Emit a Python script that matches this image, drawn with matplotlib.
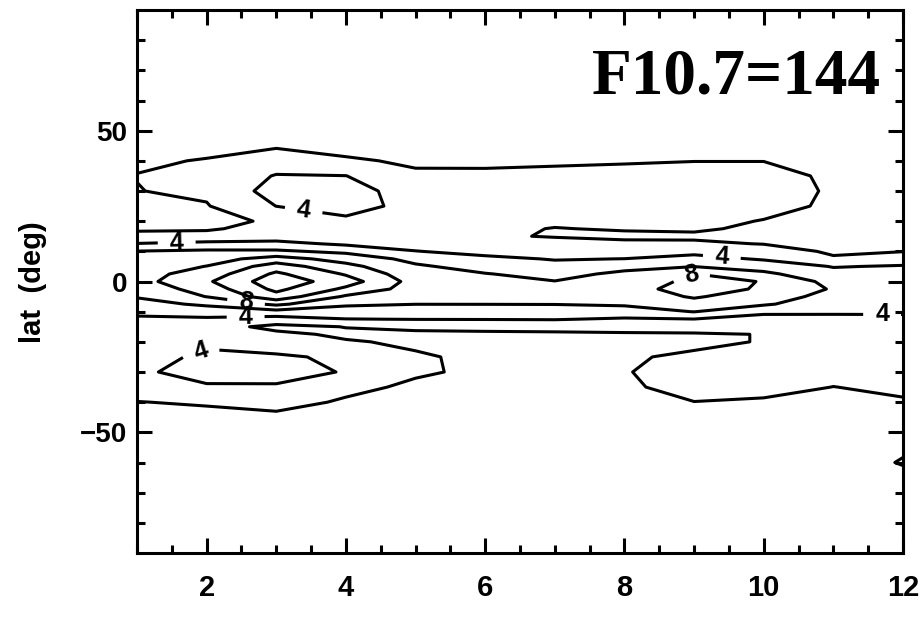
import matplotlib
matplotlib.use("Agg")
import matplotlib.pyplot as plt
import numpy as np

# latitude nodes (deg), north to south
lat = [90, 80, 70, 60, 50, 45, 40, 35, 30, 25, 20,
       17.5, 15, 12.5, 10, 7.5, 5, 2.5, 0, -2.5, -5, -7.5, -10, -12.5, -15, -17.5, -20,
       -25, -30, -35, -40, -45, -50, -60, -70, -80, -90]

months = [1, 2, 3, 4, 5, 6, 7, 8, 9, 10, 11, 12]

# monthly latitude profiles, same order as lat
jan = [0.4, 0.6, 0.8, 1.0, 1.47, 1.7, 1.85, 2.03, 1.96, 1.85, 1.75,
       1.85, 2.3, 4.09, 6.06, 6.46, 6.86, 7.26, 7.27, 6.70, 6.14, 5.31, 4.40, 3.71, 3.20, 3.10, 3.00,
       3.30, 3.60, 3.00, 1.95, 1.40, 1.20, 0.80, 0.60, 0.50, 0.40]
feb = [0.4, 0.6, 0.8, 1.0, 1.47, 1.7, 2.06, 2.5, 2.3, 1.89, 1.6,
       1.8, 2.6, 4.5, 6.33, 7.17, 8.05, 8.85, 9.7, 8.85, 8.05, 6.33, 4.92, 3.71, 2.8, 3.23, 3.67,
       4.34, 4.9, 3.73, 2.21, 1.4, 1.2, 0.8, 0.6, 0.5, 0.4]
mar = [0.4, 0.6, 0.8, 1.0, 1.53, 1.8, 2.95, 4.12, 4.8, 4.02, 2.2,
       2.6, 3.0, 4.58, 6.3, 8.84, 11.0, 12.37, 13.2, 12.49, 11.24, 8.4, 5.33, 3.21, 1.5, 2.39, 3.19,
       4.2, 4.6, 3.83, 2.61, 1.6, 1.33, 0.8, 0.6, 0.5, 0.4]
apr = [0.4, 0.6, 0.8, 1.0, 1.33, 1.5, 2.19, 4.03, 4.8, 4.6, 3.69,
       3.1, 2.5, 3.67, 5.57, 7.21, 8.59, 9.8, 10.94, 9.6, 7.71, 6.29, 5.11, 3.95, 2.05, 1.7, 2.14,
       3.75, 3.9, 2.44, 1.78, 1.4, 1.2, 0.8, 0.6, 0.5, 0.4]
may = [0.4, 0.6, 0.8, 1.0, 1.3, 1.5, 1.79, 2.22, 3.08, 3.5, 2.8,
       2.6, 2.7, 3.3, 4.05, 5.43, 6.28, 6.75, 7.21, 7.08, 6.54, 6.02, 5.02, 4.04, 2.34, 1.68, 1.75,
       2.17, 2.21, 1.7, 1.5, 1.3, 1.1, 0.8, 0.6, 0.5, 0.4]
jun = [0.4, 0.6, 0.8, 1.0, 1.3, 1.55, 1.85, 2.15, 2.4, 2.5, 2.4,
       2.3, 2.2, 2.8, 3.5, 4.36, 5.27, 6.08, 6.48, 6.78, 6.27, 6.03, 4.87, 4.06, 2.47, 1.7, 1.6,
       1.7, 1.7, 1.6, 1.45, 1.3, 1.1, 0.8, 0.6, 0.5, 0.4]
jul = [0.4, 0.6, 0.8, 1.0, 1.35, 1.6, 1.89, 2.2, 2.5, 2.55, 2.25,
       1.95, 1.9, 2.6, 3.3, 3.9, 4.5, 5.4, 6.05, 6.28, 6.15, 6.05, 4.97, 4.1, 2.63, 1.7, 1.6,
       1.65, 1.7, 1.6, 1.45, 1.3, 1.1, 0.8, 0.6, 0.5, 0.4]
aug = [0.4, 0.6, 0.8, 1.0, 1.4, 1.65, 1.92, 2.3, 2.7, 2.75, 2.45,
       2.12, 1.7, 2.33, 3.17, 4.02, 5.43, 6.4, 7.0, 7.35, 6.85, 6.25, 5.14, 3.78, 2.67, 1.8, 1.7,
       1.8, 1.92, 1.8, 1.6, 1.35, 1.15, 0.8, 0.6, 0.5, 0.4]
sep = [0.4, 0.6, 0.8, 1.0, 1.45, 1.75, 1.98, 2.45, 2.9, 2.9, 2.5,
       2.2, 1.75, 2.24, 3.43, 4.67, 5.95, 8.04, 8.4, 8.7, 8.2, 7.25, 6.05, 3.95, 2.96, 1.8, 1.6,
       2.3, 2.6, 2.45, 1.98, 1.5, 1.2, 0.8, 0.6, 0.5, 0.4]
oct_ = [0.4, 0.6, 0.8, 1.0, 1.45, 1.75, 1.98, 2.45, 2.9, 2.6, 1.92,
        1.72, 1.65, 1.95, 2.8, 3.8, 5.14, 6.42, 7.95, 7.8, 7.0, 6.25, 4.4, 3.3, 2.6, 2.05, 2.1,
        2.85, 2.95, 2.5, 1.8, 1.45, 1.2, 0.8, 0.6, 0.5, 0.4]
nov = [0.4, 0.6, 0.8, 1.0, 1.35, 1.55, 1.7, 1.78, 1.76, 1.7, 1.6,
       1.55, 1.55, 1.6, 1.75, 2.2, 3.9, 4.62, 5.3, 5.8, 5.3, 4.76, 4.22, 3.6, 3.2, 3.0, 2.9,
       2.8, 2.5, 1.98, 1.7, 1.4, 1.2, 0.8, 0.6, 0.5, 0.4]
dec = [0.4, 0.6, 0.8, 1.0, 1.3, 1.5, 1.6, 1.65, 1.65, 1.6, 1.55,
       1.55, 1.6, 1.75, 1.95, 3.07, 4.15, 4.55, 4.85, 5.0, 4.75, 4.45, 4.15, 3.75, 3.4, 3.2, 3.0,
       2.8, 2.6, 2.3, 1.85, 1.45, 1.2, 2.16, 0.60, 0.50, 0.40]

plain_levels = [2, 6, 10, 12]
label_levels = [4, 8]
# where the contour values are written
label_pos = [(1.57, 12.6), (3.4, 24.7), (1.9, -22.0), (2.56, -7.8),
             (2.56, -11.7), (9.4, 8.8), (8.95, 2.8), (11.7, -10.8)]

plt.rcParams['font.family'] = ['Liberation Sans', 'DejaVu Sans']
plt.rcParams['font.weight'] = 'bold'

z = np.column_stack([jan, feb, mar, apr, may, jun, jul, aug, sep, oct_, nov, dec])[::-1]
y = np.array(lat)[::-1]

fig = plt.figure(figsize=(9.23, 6.2), dpi=100)
ax = fig.add_axes([137 / 923, 1 - 553 / 620, 766 / 923, 543 / 620])

ax.contour(months, y, z, levels=plain_levels, colors='black', linewidths=2.2)
cs = ax.contour(months, y, z, levels=label_levels, colors='black', linewidths=2.2)
ax.clabel(cs, fmt='%d', manual=label_pos, fontsize=18, inline_spacing=12)

ax.set_xlim(1, 12)
ax.set_ylim(-90, 90)
ax.set_xticks(np.arange(2, 13, 2))
ax.set_xticks(np.arange(1, 12.01, 0.5), minor=True)
ax.set_yticks([-50, 0, 50])
ax.set_yticks(np.arange(-80, 81, 10), minor=True)
ax.tick_params(which='both', direction='in', top=True, right=True, width=2.2)
ax.tick_params(which='major', length=11)
ax.tick_params(which='minor', length=5.5)
ax.tick_params(axis='x', labelsize=21, pad=15)
ax.tick_params(axis='y', labelsize=20, pad=7)
for sp in ax.spines.values():
    sp.set_linewidth(2.2)

fig.text(33 / 923, 1 - 282 / 620, 'lat  (deg)', rotation=90, ha='center', va='center',
         fontsize=21, fontweight='bold')
fig.text(592 / 923, 1 - 93 / 620, 'F10.7=144', family='Liberation Serif',
         fontweight='bold', fontsize=47, ha='left', va='baseline')

fig.savefig('out.png', dpi=100)
